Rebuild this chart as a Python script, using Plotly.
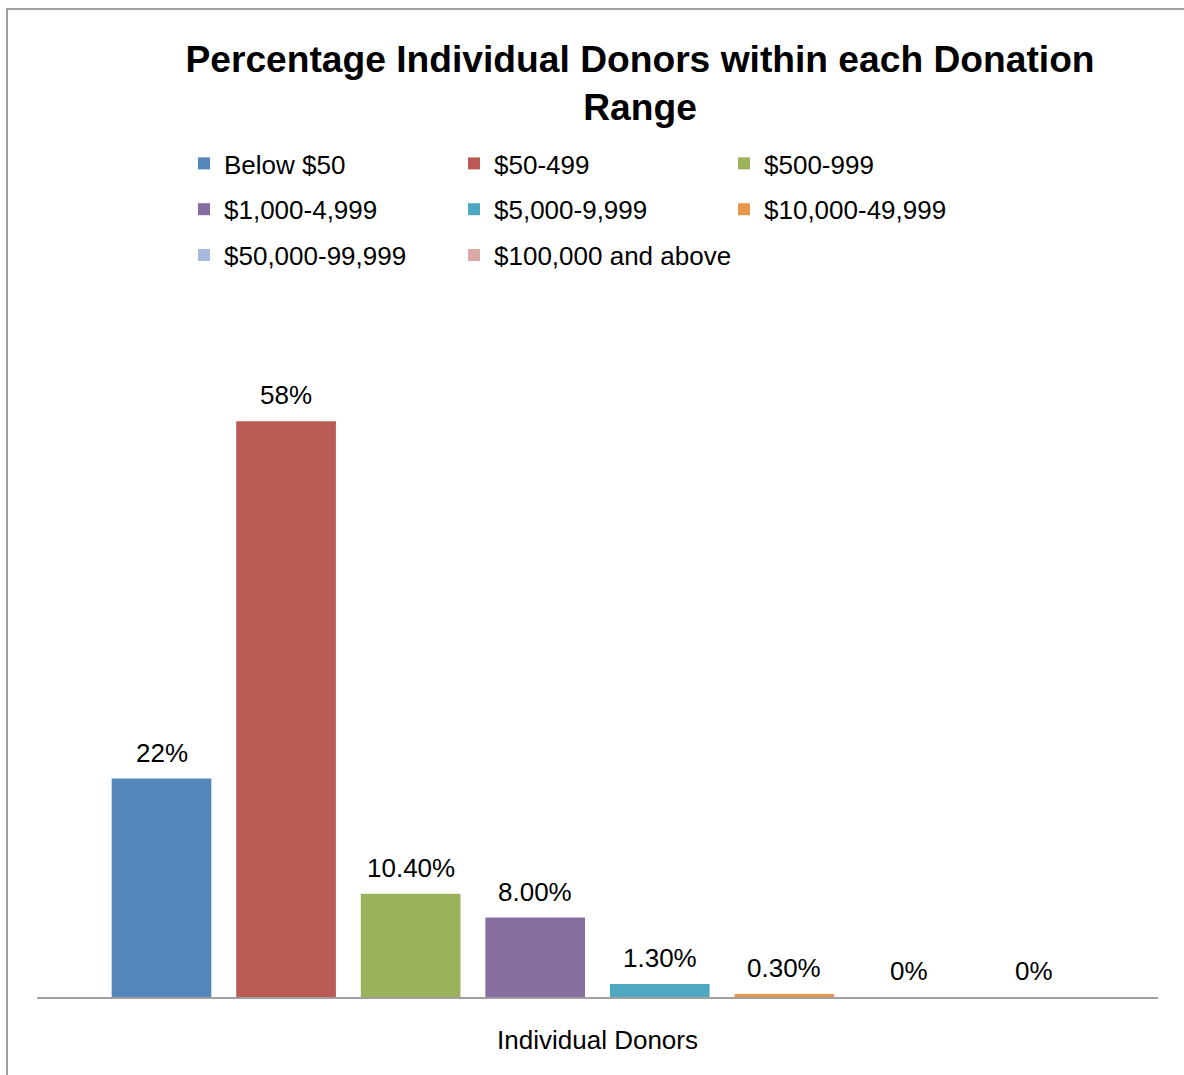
import plotly.graph_objects as go

# Share of individual donors in each donation range
category = ["Individual Donors"]
ranges = [
    "Below $50", "$50-499", "$500-999", "$1,000-4,999",
    "$5,000-9,999", "$10,000-49,999", "$50,000-99,999", "$100,000 and above",
]
percent = [22, 58, 10.4, 8.0, 1.3, 0.3, 0, 0]
value_labels = ["22%", "58%", "10.40%", "8.00%", "1.30%", "0.30%", "0%", "0%"]
colors = ["#5586B9", "#B95B54", "#9BB25C", "#876EA1",
          "#4FA8C1", "#E8954E", "#A6BADB", "#DCA8A6"]

FONT = "Liberation Sans, Arial, sans-serif"
BARGAP = 0.111
GROUPGAP = 0.2
W, H = 1184, 1075
L, R, T, B = 37, 26, 302, 78
pw, ph = W - L - R, H - T - B


def px_x(px):
    """pixel column -> paper x"""
    return (px - L) / pw


def px_y(py):
    """pixel row -> paper y"""
    return 1 + (T - py) / ph


# legend laid out in three columns, filled row by row
LEGEND_IDS = ["legend", "legend2", "legend3"]

fig = go.Figure()
for i, (name, val, col) in enumerate(zip(ranges, percent, colors)):
    fig.add_trace(go.Bar(
        x=category, y=[val], name=name,
        marker=dict(color=col, line=dict(width=0)),
        legend=LEGEND_IDS[i % 3], legendgroup=name,
        hoverinfo="name+y",
    ))

# value labels above each bar, placed at the bar's slot inside the group
n = len(ranges)
slot = (1 - BARGAP) / n
for i, (val, lab) in enumerate(zip(percent, value_labels)):
    fig.add_annotation(
        x=(i - (n - 1) / 2) * slot, y=val, xref="x", yref="y",
        text=lab, showarrow=False, yanchor="middle", yshift=26,
        font=dict(family=FONT, size=26, color="#000000"),
    )

# outer chart frame
fig.add_shape(
    type="rect", xref="paper", yref="paper",
    x0=px_x(7), x1=px_x(W + 10),
    y0=px_y(H + 10), y1=px_y(9),
    line=dict(color="#A0A0A0", width=2), fillcolor="rgba(0,0,0,0)", layer="below",
)

legend_font = dict(family=FONT, size=26, color="#000000")
legend_common = dict(
    orientation="v", xanchor="left", yanchor="top", y=px_y(140),
    traceorder="grouped", tracegroupgap=9,
    font=legend_font, bgcolor="rgba(0,0,0,0)", borderwidth=0,
)
column_left = [184, 454, 724]

fig.update_layout(
    width=W, height=H,
    margin=dict(l=L, r=R, t=T, b=B, pad=0, autoexpand=False),
    paper_bgcolor="#FFFFFF", plot_bgcolor="#FFFFFF",
    barmode="group", bargap=BARGAP, bargroupgap=GROUPGAP,
    font=dict(family=FONT, size=26, color="#000000"),
    title=dict(
        text="<b>Percentage Individual Donors within each Donation<br>Range</b>",
        x=640 / W, xanchor="center", y=1 - 72 / H, yanchor="top",
        font=dict(family=FONT, size=37.2, color="#000000"),
    ),
    showlegend=True,
    legend=dict(x=px_x(column_left[0]), **legend_common),
    legend2=dict(x=px_x(column_left[1]), **legend_common),
    legend3=dict(x=px_x(column_left[2]), **legend_common),
    xaxis=dict(
        showline=True, linecolor="#A0A0A0", linewidth=2,
        ticks="", showgrid=False, zeroline=False,
        tickfont=dict(family=FONT, size=26, color="#000000"),
        ticklabelstandoff=19,
    ),
    yaxis=dict(
        range=[0, 70], visible=False, showgrid=False, zeroline=False,
    ),
)

fig.write_html("out.html")
